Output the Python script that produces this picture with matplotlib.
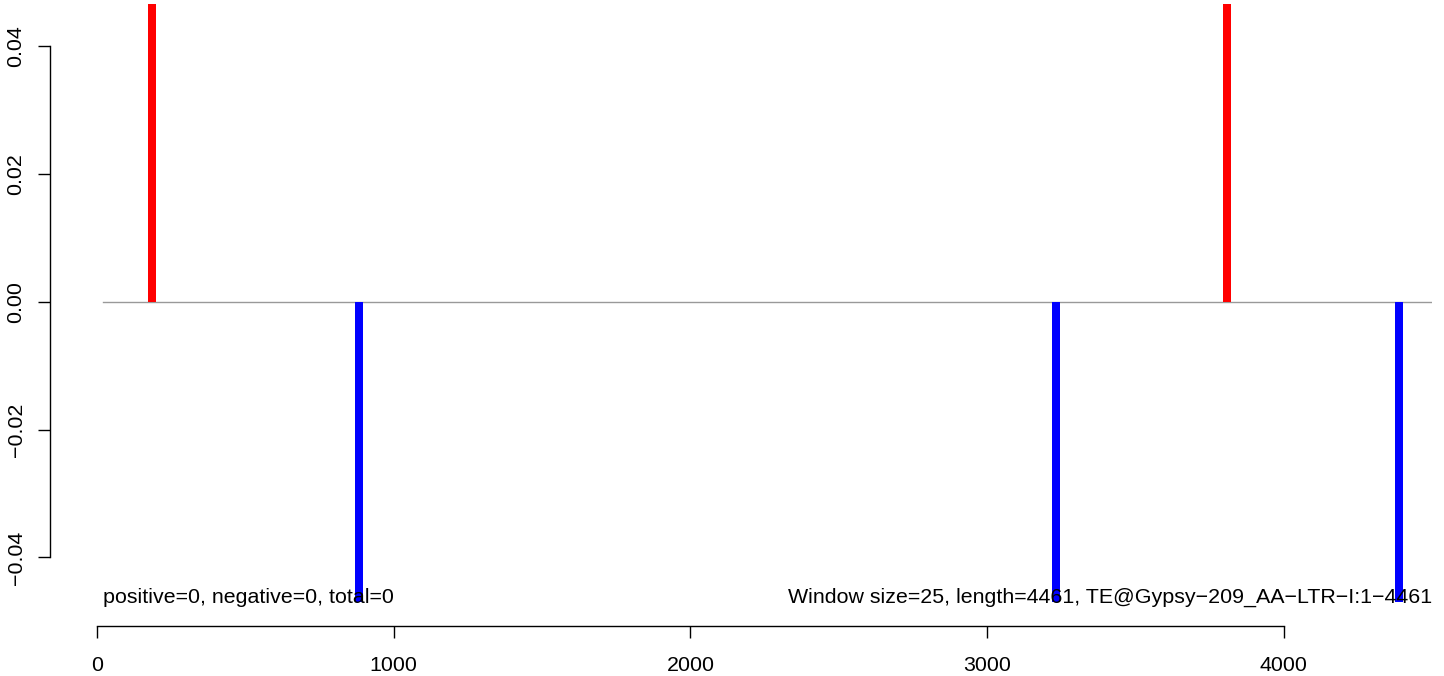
import matplotlib
matplotlib.use("Agg")
import matplotlib.pyplot as plt
import matplotlib.transforms as mtransforms

plt.rcParams['font.family'] = ['Liberation Sans', 'DejaVu Sans']

# positions of the windows and their signal (bars run past the plot edge)
pos_x = [185, 3808]
pos_y = [0.05, 0.05]
neg_x = [883, 3232, 4388]
neg_y = [-0.05, -0.05, -0.05]

xticks = [0, 1000, 2000, 3000, 4000]
yticks = [-0.04, -0.02, 0.00, 0.02, 0.04]

left_note = "positive=0, negative=0, total=0"
right_note = "Window size=25, length=4461, TE@Gypsy\u2212209_AA\u2212LTR\u2212I:1\u22124461"

fs = 15.4
x_lo, x_hi = 20, 4499

fig = plt.figure(figsize=(14.44, 6.76), dpi=100)
ax = fig.add_axes([97 / 1444, 74 / 676, (1432 - 97) / 1444, (672 - 74) / 676])

ax.axhline(0, xmin=x_lo / x_hi, color='#999999', lw=1.0, zorder=1)
ax.bar(pos_x, pos_y, width=27, color='red', zorder=2)
ax.bar(neg_x, neg_y, width=27, color='blue', zorder=2)

trans = mtransforms.blended_transform_factory(ax.transData, ax.transAxes)
ax.text(x_lo, 0.008, left_note, transform=trans, ha='left', va='center', fontsize=fs, zorder=3)
ax.text(x_hi, 0.008, right_note, transform=trans, ha='right', va='center', fontsize=fs, zorder=3)

for s in ['top', 'right']:
    ax.spines[s].set_visible(False)
ax.spines['bottom'].set_position(('outward', 17.3))
ax.spines['left'].set_position(('outward', 33.8))
for s in ['bottom', 'left']:
    ax.spines[s].set_linewidth(1.0)

ax.set_xticks(xticks)
ax.set_xticklabels([str(v) for v in xticks])
ax.set_yticks(yticks)
ax.set_yticklabels(["%.2f" % v if v >= 0 else "\u2212%.2f" % -v for v in yticks],
                   rotation=90, va='center')
ax.tick_params(axis='both', length=8.6, width=1.0, labelsize=fs, direction='out')
ax.tick_params(axis='x', pad=13)
ax.tick_params(axis='y', pad=9)

# limits last: moving the spines resets the axis
ax.set_xlim(0, x_hi)
ax.set_ylim(-0.04697, 0.04665)
ax.spines['bottom'].set_bounds(0, 4000)
ax.spines['left'].set_bounds(-0.04, 0.04)

fig.savefig("out.png", dpi=100)
